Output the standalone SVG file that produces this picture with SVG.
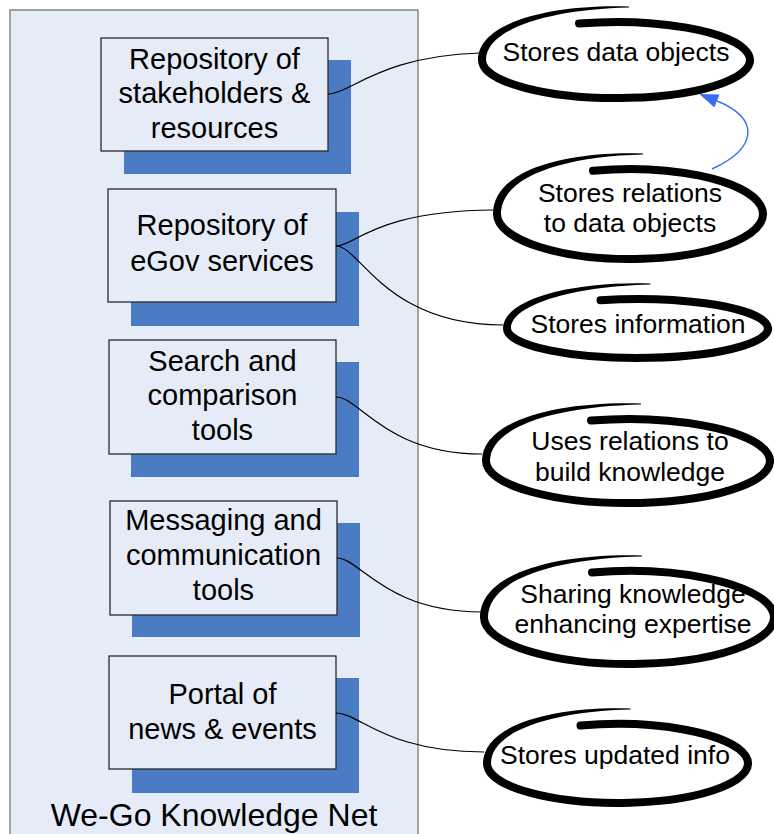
<svg xmlns="http://www.w3.org/2000/svg" width="774" height="834" viewBox="0 0 774 834">
  <style>
    .frame { fill: #e6ecf7; stroke: #6b6b6b; stroke-width: 1.2; }
    .shadow { fill: #4a7bc3; }
    .box { fill: #e6ecf7; stroke: #2a2a2a; stroke-width: 1.3; }
    .btxt { font-family: "Liberation Sans", Arial, sans-serif; font-size: 29px; fill: #000; text-anchor: middle; }
    .etxt { font-family: "Liberation Sans", Arial, sans-serif; font-size: 26.5px; fill: #000; text-anchor: middle; }
    .title { font-family: "Liberation Sans", Arial, sans-serif; font-size: 32px; fill: #000; text-anchor: middle; }
    .loop { fill: none; stroke: #000; stroke-width: 8; stroke-linecap: round; }
    .tail { fill: #000; stroke: none; }
    .link { fill: none; stroke: #000; stroke-width: 1.2; }
    .rel { fill: none; stroke: #3a6cf4; stroke-width: 1.4; }
  </style>
  <defs>
    <marker id="arrow" viewBox="0 0 19 14" refX="0" refY="7" markerWidth="19" markerHeight="14" markerUnits="userSpaceOnUse" orient="auto">
      <path d="M0,0 L19,7 L0,14 z" fill="#3a6cf4"/>
    </marker>
  </defs>

  <!-- container -->
  <g id="knowledge-net">
    <rect class="frame" x="10" y="10" width="408" height="840"/>
    <text class="title" x="214" y="826">We-Go Knowledge Net</text>
  </g>

  <!-- component boxes -->
  <g id="stakeholders">
    <rect class="shadow" x="124" y="60" width="227" height="114"/>
    <rect class="box" x="101" y="38" width="227" height="113"/>
    <text class="btxt" x="214.5" y="68.5">Repository of</text>
    <text class="btxt" x="214.5" y="103">stakeholders &amp;</text>
    <text class="btxt" x="214.5" y="137.5">resources</text>
  </g>
  <g id="egov-services">
    <rect class="shadow" x="131" y="212" width="228" height="114"/>
    <rect class="box" x="108" y="189" width="228" height="113"/>
    <text class="btxt" x="222" y="235">Repository of</text>
    <text class="btxt" x="222" y="270.5">eGov services</text>
  </g>
  <g id="search-tools">
    <rect class="shadow" x="131" y="362" width="228" height="115"/>
    <rect class="box" x="109" y="340" width="227" height="114"/>
    <text class="btxt" x="222.5" y="370.5">Search and</text>
    <text class="btxt" x="222.5" y="405">comparison</text>
    <text class="btxt" x="222.5" y="440">tools</text>
  </g>
  <g id="messaging-tools">
    <rect class="shadow" x="132" y="523" width="228" height="114"/>
    <rect class="box" x="110" y="501" width="227" height="114"/>
    <text class="btxt" x="223.5" y="530">Messaging and</text>
    <text class="btxt" x="223.5" y="565">communication</text>
    <text class="btxt" x="223.5" y="600">tools</text>
  </g>
  <g id="portal">
    <rect class="shadow" x="132" y="678" width="227" height="115"/>
    <rect class="box" x="109" y="656" width="227" height="113"/>
    <text class="btxt" x="222.5" y="703.5">Portal of</text>
    <text class="btxt" x="222.5" y="738.5">news &amp; events</text>
  </g>

  <!-- connectors -->
  <g id="connectors">
    <path class="link" d="M328,94 C350,94 380,56 480,53"/>
    <path class="link" d="M336,246 C355,246 375,211 493,210"/>
    <path class="link" d="M336,246 C360,246 385,325 503,325"/>
    <path class="link" d="M336,397 C360,397 385,454 482,454"/>
    <path class="link" d="M337,558 C360,558 385,612 482,612"/>
    <path class="link" d="M336,713 C360,713 385,752 484,752"/>
    <path class="rel" d="M712,169 C758,148 760,118 717,101" marker-end="url(#arrow)"/>
  </g>

  <!-- hand-drawn ellipse notes: thick loop plus a tapering brush tail -->
  <g id="note-data-objects">
    <path class="loop" d="M579,23.5 A134,38 0 1 1 482,60"/>
    <path class="tail" d="M478,60 C478,22.8 549,4 629,6.4 L629,7.6 C549,9.5 486,28.8 486,60 Z"/>
    <text class="etxt" x="616" y="61">Stores data objects</text>
  </g>
  <g id="note-relations">
    <path class="loop" d="M593,170.8 A133,45 0 1 1 497,214"/>
    <path class="tail" d="M493,214 C493,170.5 563.5,151 643,153.4 L643,154.6 C563.5,156.5 501,176.5 501,214 Z"/>
    <text class="etxt" x="630" y="202">Stores relations</text>
    <text class="etxt" x="630" y="232">to data objects</text>
  </g>
  <g id="note-information">
    <path class="loop" d="M600.5,300.2 A130.5,29.5 0 1 1 507,328.5"/>
    <path class="tail" d="M503,328.5 C503,298.95 572.25,281 650.5,283.4 L650.5,284.6 C572.25,286.5 511,304.95 511,328.5 Z"/>
    <text class="etxt" x="638" y="333">Stores information</text>
  </g>
  <g id="note-knowledge">
    <path class="loop" d="M591,420.5 A142,42 0 1 1 486,461"/>
    <path class="tail" d="M482,461 C482,420.2 557,401 641,403.4 L641,404.6 C557,406.5 490,426.2 490,461 Z"/>
    <text class="etxt" x="630" y="450">Uses relations to</text>
    <text class="etxt" x="630" y="481">build knowledge</text>
  </g>
  <g id="note-expertise">
    <path class="loop" d="M592,572.5 A145,46.5 0 1 1 484,617.5"/>
    <path class="tail" d="M480,617.5 C480,572.65 556.5,553 642,555.4 L642,556.6 C556.5,558.5 488,578.65 488,617.5 Z"/>
    <text class="etxt" x="633" y="603">Sharing knowledge</text>
    <text class="etxt" x="633" y="633">enhancing expertise</text>
  </g>
  <g id="note-updates">
    <path class="loop" d="M580.5,725.6 A130.5,39.5 0 1 1 487,763.5"/>
    <path class="tail" d="M483,763.5 C483,724.95 552.25,706 630.5,708.4 L630.5,709.6 C552.25,711.5 491,730.95 491,763.5 Z"/>
    <text class="etxt" x="615" y="764">Stores updated info</text>
  </g>
</svg>
